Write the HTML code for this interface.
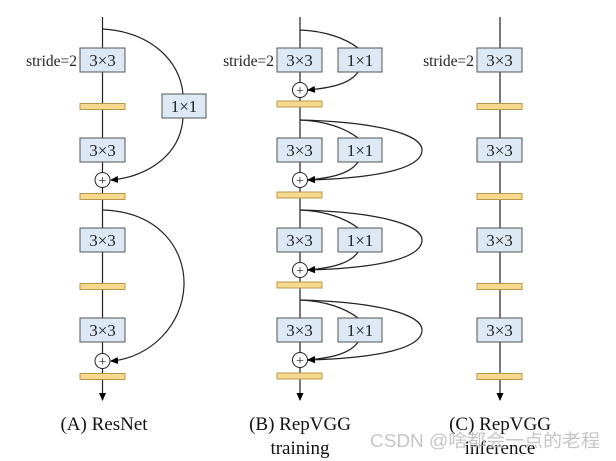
<!DOCTYPE html>
<html><head><meta charset="utf-8"><style>
html,body{margin:0;padding:0;background:#fff;width:616px;height:461px;overflow:hidden}
</style></head><body>
<svg width="616" height="461" viewBox="0 0 616 461" xmlns="http://www.w3.org/2000/svg" font-family="Liberation Serif, serif">
<defs><marker id="ar" markerWidth="8" markerHeight="8" refX="7" refY="4" orient="auto" markerUnits="userSpaceOnUse"><path d="M0,0.5 L8,4 L0,7.5 Z" fill="#000"/></marker></defs>
<g stroke="#222" stroke-width="1.2" fill="none">
<line x1="102.5" y1="17" x2="102.5" y2="400" marker-end="url(#ar)"/>
<line x1="300" y1="17" x2="300" y2="400" marker-end="url(#ar)"/>
<line x1="500" y1="17" x2="500" y2="400" marker-end="url(#ar)"/>
<path d="M103,29 C150,32 180,60 183,94"/>
<path d="M183,118 C180,160 140,178 111,180" marker-end="url(#ar)"/>
<path d="M103,210 C160,212 185,250 184,285 C183,325 150,358 111,361" marker-end="url(#ar)"/>
<path d="M300,30 C325,31 345,38 358,48"/>
<path d="M358,72 C350,84 330,88 308,90" marker-end="url(#ar)"/>
<path d="M300,120 C325,121 345,128 358,138"/>
<path d="M358,162 C350,174 330,178 308,180" marker-end="url(#ar)"/>
<path d="M300,120 C380,122 422,135 422,150 C422,168 380,178 308,180" marker-end="url(#ar)"/>
<path d="M300,210 C325,211 345,218 358,228"/>
<path d="M358,252 C350,264 330,268 308,270" marker-end="url(#ar)"/>
<path d="M300,210 C380,212 422,225 422,240 C422,258 380,268 308,270" marker-end="url(#ar)"/>
<path d="M300,300 C325,301 345,308 358,318"/>
<path d="M358,342 C350,354 330,358 308,360" marker-end="url(#ar)"/>
<path d="M300,300 C380,302 422,315 422,330 C422,348 380,358 308,360" marker-end="url(#ar)"/>
</g>
<g stroke="#555" stroke-width="1" fill="#dce8f4">
<rect x="80" y="48" width="45" height="24"/><rect x="80" y="138" width="45" height="24"/>
<rect x="80" y="228" width="45" height="24"/><rect x="80" y="318" width="45" height="24"/>
<rect x="162" y="94" width="44" height="24"/>
<rect x="277" y="48" width="45" height="24"/><rect x="277" y="138" width="45" height="24"/>
<rect x="277" y="228" width="45" height="24"/><rect x="277" y="318" width="45" height="24"/>
<rect x="338" y="48" width="44" height="24"/><rect x="338" y="138" width="44" height="24"/>
<rect x="338" y="228" width="44" height="24"/><rect x="338" y="318" width="44" height="24"/>
<rect x="477" y="48" width="45" height="24"/><rect x="477" y="138" width="45" height="24"/>
<rect x="477" y="228" width="45" height="24"/><rect x="477" y="318" width="45" height="24"/>
</g>
<g stroke="#b8964a" stroke-width="1" fill="#f6d98e">
<rect x="80" y="103.5" width="45" height="6"/><rect x="80" y="193.5" width="45" height="6"/>
<rect x="80" y="283.5" width="45" height="6"/><rect x="80" y="373.5" width="45" height="6"/>
<rect x="277" y="101" width="45" height="6"/><rect x="277" y="192" width="45" height="6"/>
<rect x="277" y="282" width="45" height="6"/><rect x="277" y="373" width="45" height="6"/>
<rect x="477" y="103.5" width="45" height="6"/><rect x="477" y="193.5" width="45" height="6"/>
<rect x="477" y="283.5" width="45" height="6"/><rect x="477" y="373.5" width="45" height="6"/>
</g>
<g stroke="#222" stroke-width="1" fill="#fff">
<circle cx="102.5" cy="180" r="7.5"/><circle cx="102.5" cy="361" r="7.5"/>
<circle cx="300" cy="90" r="7.5"/><circle cx="300" cy="180" r="7.5"/>
<circle cx="300" cy="270" r="7.5"/><circle cx="300" cy="360" r="7.5"/>
</g>
<g font-size="14" text-anchor="middle" fill="#222">
<text x="102.5" y="185">+</text><text x="102.5" y="366">+</text>
<text x="300" y="95">+</text><text x="300" y="185">+</text><text x="300" y="275">+</text><text x="300" y="365">+</text>
</g>
<g font-size="17" text-anchor="middle" fill="#222">
<text x="102.5" y="66">3×3</text><text x="102.5" y="156">3×3</text><text x="102.5" y="246">3×3</text><text x="102.5" y="336">3×3</text>
<text x="184" y="112">1×1</text>
<text x="299.5" y="66">3×3</text><text x="299.5" y="156">3×3</text><text x="299.5" y="246">3×3</text><text x="299.5" y="336">3×3</text>
<text x="360" y="66">1×1</text><text x="360" y="156">1×1</text><text x="360" y="246">1×1</text><text x="360" y="336">1×1</text>
<text x="499.5" y="66">3×3</text><text x="499.5" y="156">3×3</text><text x="499.5" y="246">3×3</text><text x="499.5" y="336">3×3</text>
</g>
<g font-size="15.5" text-anchor="end" fill="#222">
<text x="77" y="66">stride=2</text><text x="274" y="66">stride=2</text><text x="474" y="66">stride=2</text>
</g>
<g font-size="19" text-anchor="middle" fill="#111">
<text x="104" y="430">(A) ResNet</text>
<text x="300" y="430">(B) RepVGG</text><text x="300" y="454">training</text>
<text x="500" y="430">(C) RepVGG</text><text x="500" y="454">inference</text>
</g>
<text x="370" y="447" font-size="18" textLength="230" lengthAdjust="spacingAndGlyphs" fill="#bbb" fill-opacity="0.85" font-family="Liberation Sans, Noto Sans CJK SC, sans-serif">CSDN @啥都会一点的老程</text>
</svg>
</body></html>
